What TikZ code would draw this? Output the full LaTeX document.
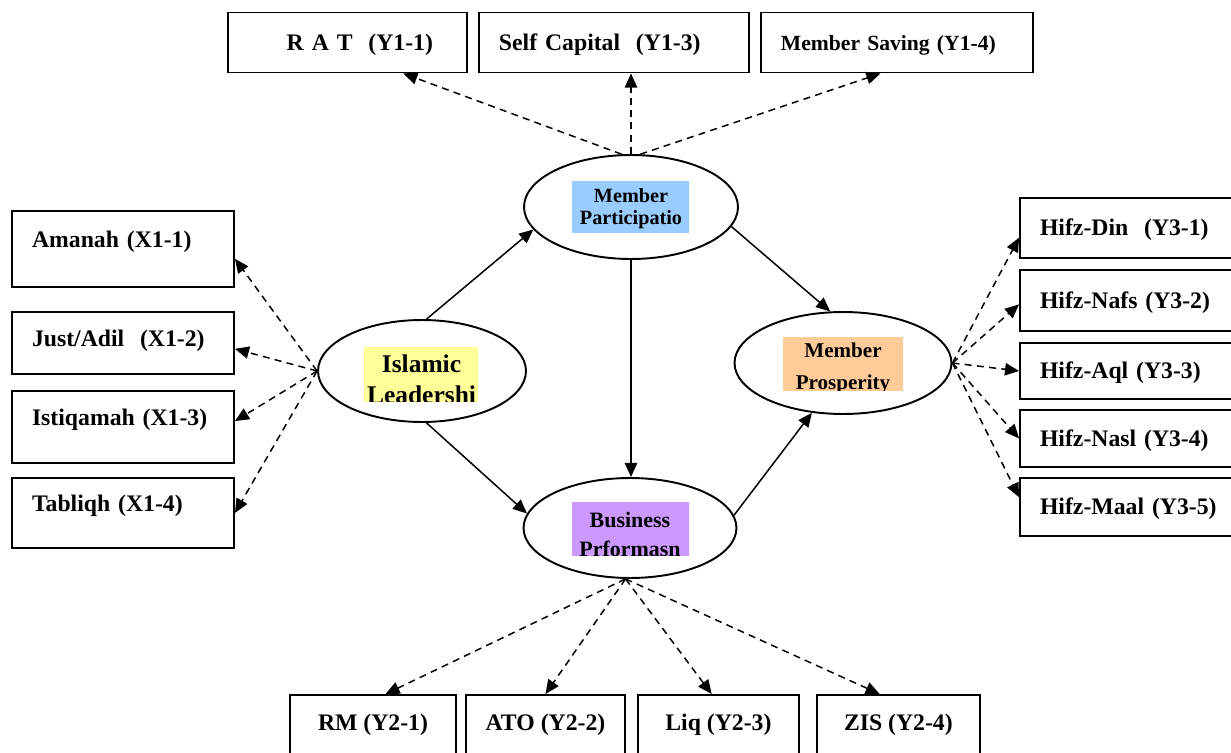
\documentclass[tikz,border=0pt]{standalone}
\usepackage{fontspec}
\setmainfont{Liberation Serif}
\usetikzlibrary{shapes,arrows.meta,positioning}
\definecolor{partblue}{RGB}{153,204,255}
\definecolor{leadyellow}{RGB}{255,255,153}
\definecolor{busviolet}{RGB}{204,153,255}
\definecolor{prosorange}{RGB}{255,204,153}
\newcommand\boxfont{\fontsize{13.5}{16}\selectfont\bfseries}

\begin{document}
\begin{tikzpicture}[x=0.02cm, y=-0.02cm, >={Triangle[length=8pt,width=7pt]}]
\tikzset{indicator/.style={rectangle, draw, line width=1.1pt,
                           inner ysep=0pt, inner xsep=0.4cm, font=\boxfont,
                           text height=0.32cm, text depth=0pt},
         lifted/.style={text height=0.14cm, text depth=0.18cm},
         leftbox/.style={indicator, align=left, text width=3.64cm},
         rightbox/.style={indicator, align=left, text width=3.6cm},
         botbox/.style={indicator, minimum height=1.5cm,
                        text height=0.12cm, text depth=0.2cm},
         lat/.style={ellipse, draw, line width=1.1pt, inner sep=0pt},
         tag/.style={minimum width=3cm, minimum height=1.6cm,
                     align=center, inner sep=0pt},
         effect/.style={->, line width=0.85pt},
         loading/.style={->, dash pattern=on 4pt off 3pt, line width=0.85pt}}
\useasboundingbox (0,0) rectangle (1231,753);
\clip (0,0) rectangle (1231,753);

% indicators of member participation
\node(rat) [indicator, align=right, text width=3.42cm, inner xsep=0.68cm,
            minimum height=1.2cm] at (347.5,42.5) {R A T~ (Y1-1)};
\node(capital) [indicator, align=left, text width=4.6cm, minimum height=1.2cm,
                right of=rat, node distance=5.33cm] {Self Capital~ (Y1-3)};
\node(saving) [indicator, align=left, text width=4.64cm, minimum height=1.2cm,
               right of=capital, node distance=5.66cm,
               font=\fontsize{12.3}{14}\selectfont\bfseries] {Member Saving (Y1-4)};

% indicators of islamic leadership
\node(amanah) [leftbox, lifted, minimum height=1.52cm] at (123,249) {Amanah (X1-1)};
\node(just) [leftbox, minimum height=1.24cm, text height=0.24cm, text depth=0.08cm,
             below of=amanah, node distance=1.88cm] {Just/Adil~ (X1-2)};
\node(istiq) [leftbox, lifted, minimum height=1.44cm,
              below of=just, node distance=1.68cm] {Istiqamah (X1-3)};
\node(tabligh) [leftbox, lifted, minimum height=1.4cm,
                below of=istiq, node distance=1.72cm] {Tabliqh (X1-4)};

% indicators of member prosperity
\node(din) [rightbox, minimum height=1.2cm] at (1130,228) {Hifz-Din~ (Y3-1)};
\node(nafs) [rightbox, minimum height=1.22cm,
             below of=din, node distance=1.45cm] {Hifz-Nafs (Y3-2)};
\node(aql) [rightbox, minimum height=1.12cm,
            below of=nafs, node distance=1.41cm] {Hifz-Aql (Y3-3)};
\node(nasl) [rightbox, minimum height=1.14cm,
             below of=aql, node distance=1.35cm] {Hifz-Nasl (Y3-4)};
\node(maal) [rightbox, minimum height=1.16cm,
             below of=nasl, node distance=1.37cm] {Hifz-Maal (Y3-5)};

% indicators of business performance
\node(rm) [botbox, minimum width=3.32cm] at (373,732.5) {RM (Y2-1)};
\node(ato) [botbox, minimum width=3.18cm,
            right of=rm, node distance=3.45cm] {ATO (Y2-2)};
\node(liq) [botbox, minimum width=3.22cm,
            right of=ato, node distance=3.46cm] {Liq (Y2-3)};
\node(zis) [botbox, minimum width=3.26cm,
            right of=liq, node distance=3.6cm] {ZIS (Y2-4)};

% latent variables
\node(mp) [lat, minimum width=4.28cm, minimum height=2.08cm] at (631,207) {};
\node(il) [lat, minimum width=4.16cm, minimum height=2.04cm] at (422,371) {};
\node(bp) [lat, minimum width=4.26cm, minimum height=2cm] at (630,528) {};
\node(pros) [lat, minimum width=4.34cm, minimum height=2.04cm] at (843,363) {};

\begin{scope}
\clip (572,182) rectangle (689,233);
\node(mptag) [tag, fill=partblue, font=\fontsize{11.5}{12.5}\selectfont\bfseries]
  at (631,208.4) {Member\\Participatio};
\end{scope}
\begin{scope}
\clip (364,347) rectangle (478,401);
\node(iltag) [tag, fill=leadyellow, font=\fontsize{14.5}{18}\selectfont\bfseries]
  at (421.5,379.3) {Islamic\\Leadershi};
\end{scope}
\begin{scope}
\clip (572,502) rectangle (689,555);
\node(bptag) [tag, fill=busviolet, font=\fontsize{12.5}{17}\selectfont\bfseries]
  at (630,534.5) {Business\\Prformasn};
\end{scope}
\begin{scope}
\clip (783,338) rectangle (903,390);
\node(prostag) [tag, fill=prosorange, font=\fontsize{12}{18}\selectfont\bfseries]
  at (843,368.6) {Member\\Prosperity};
\end{scope}

% structural paths
\draw[effect] (il.85) -- (mp.193);
\draw[effect] (il.275) -- (bp.172);
\draw[effect] (mp.south) -- (mp.south |- bp.north);
\draw[effect] (mp.-11) -- (pros.104);
\draw[effect] (bp.7) -- (pros.238);

% loadings
\draw[loading] (mp.100) -- (rat.-29);
\draw[loading] (mp.north) -- (mp.north |- capital.south);
\draw[loading] (mp.80) -- (saving.-118);
\draw[loading] (il.west) -- (amanah.-5);
\draw[loading] (il.west) -- (just.-3);
\draw[loading] (il.west) -- (istiq.3);
\draw[loading] (il.west) -- (tabligh.east);
\draw[loading] (pros.east) -- (din.185);
\draw[loading] (pros.east) -- (nafs.182);
\draw[loading] (pros.east) -- (aql.west);
\draw[loading] (pros.east) -- (nasl.west);
\draw[loading] (pros.east) -- (maal.175);
\draw[loading] (bp.265) -- (rm.72);
\draw[loading] (bp.265) -- (ato.north);
\draw[loading] (bp.265) -- (liq.100);
\draw[loading] (bp.265) -- (zis.116);
\end{tikzpicture}
\end{document}
